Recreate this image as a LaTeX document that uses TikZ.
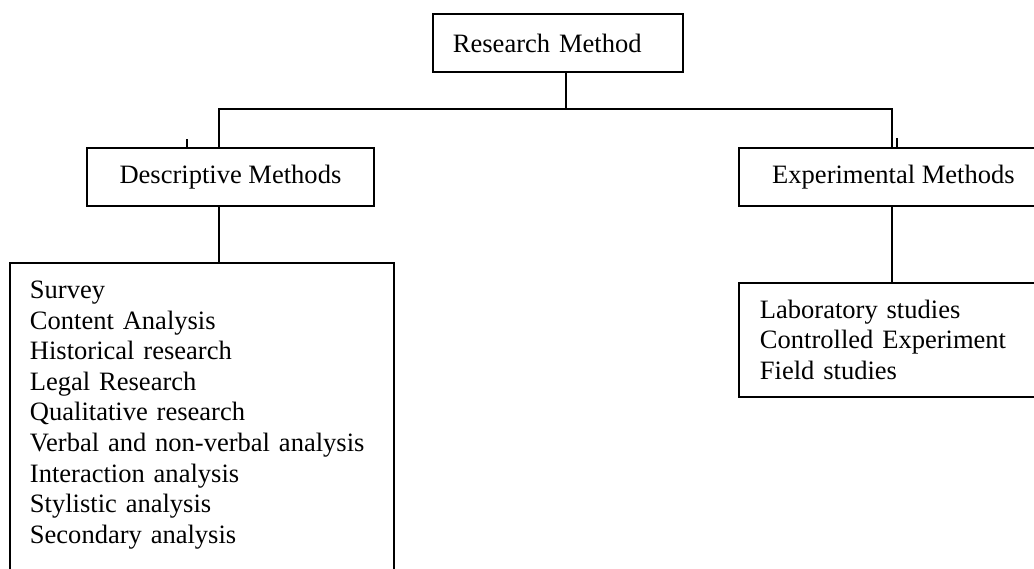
\documentclass[tikz,border=0pt]{standalone}
\usepackage{fontspec}
\setmainfont{Liberation Serif}
\newcommand\pxu{0.75pt}
\begin{document}
\begin{tikzpicture}[x=0.75pt,y=-0.75pt,
  every node/.style={font=\fontsize{19.9pt}{22.95pt}\selectfont},
  boxnode/.style={draw, line width=1.4pt, rectangle, inner sep=0pt},
  conn/.style={line width=1.4pt},
  tick/.style={line width=0.8pt}]
\useasboundingbox (0,0) rectangle (1034,568);
\clip (0,0) rectangle (1034,568);
\fill[white] (0,0) rectangle (1034,568);

\node (rm) [boxnode, anchor=north west, minimum width={250*\pxu}, minimum height={58*\pxu},
  text width={210*\pxu}, inner xsep={20*\pxu}, align=left] at (432,13) {Research Method};

\node (desc) [boxnode, anchor=north west, minimum width={287*\pxu}, minimum height={58*\pxu},
  align=center] at (86,147) {Descriptive Methods};

\node (exp) [boxnode, anchor=north west, minimum width={309*\pxu}, minimum height={58*\pxu},
  align=center] at (738,147) {Experimental Methods};

\node (desclist) [boxnode, anchor=north west, text width={344*\pxu}, inner xsep={20*\pxu},
  inner ysep={18*\pxu}, text depth={262*\pxu}, align=left] at (9,262)
  {Survey\\Content Analysis\\Historical research\\Legal Research\\Qualitative research\\Verbal and non-verbal analysis\\Interaction analysis\\Stylistic analysis\\Secondary analysis};

\node (explist) [boxnode, anchor=north west, text width={267*\pxu}, inner xsep={21*\pxu},
  inner ysep={17*\pxu}, align=left] at (738,282)
  {Laboratory studies\\Controlled Experiment\\Field studies};

\coordinate (jT) at (566,109);
\coordinate (jL) at (219,109);
\coordinate (jR) at (892,109);
\coordinate (tickL) at (187,139);
\coordinate (tickR) at (897,138);

\draw[conn] (rm.south -| jT) -- (jT);
\draw[conn] (desc.north -| jL) -- (jL) -- (jR) -- (exp.north -| jR);
\draw[conn] (desc.south -| jL) -- (desclist.north -| jL);
\draw[conn] (exp.south -| jR) -- (explist.north -| jR);
\draw[tick] (tickL) -- (tickL |- desc.north);
\draw[tick] (tickR) -- (tickR |- exp.north);
\end{tikzpicture}
\end{document}
